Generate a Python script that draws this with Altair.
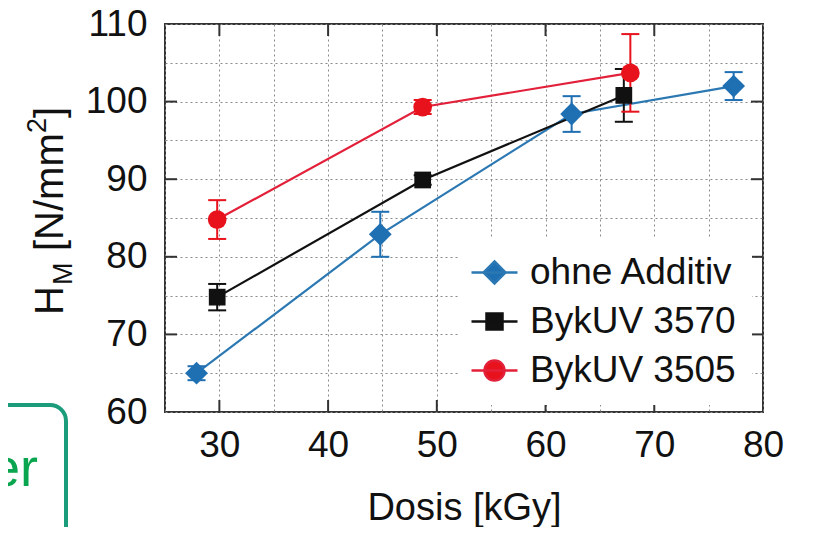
import altair as alt
import pandas as pd

FONT = "Liberation Sans"

names = ["ohne Additiv", "BykUV 3570", "BykUV 3505"]
colors = ["#1f6fb3", "#111111", "#e8121c"]
line_colors = ["#2b78b3", "#111111", "#e3203a"]
shapes = ["diamond", "square", "circle"]
marker_sizes = [520, 280, 350]

blue_x = [27.9, 44.8, 62.4, 77.3]
blue_y = [65.0, 82.9, 98.4, 102.0]
blue_err = [0.9, 2.9, 2.3, 1.8]

black_x = [29.8, 48.7, 67.2]
black_y = [74.8, 89.9, 100.8]
black_err = [1.7, 0.6, 3.4]

red_x = [29.8, 48.7, 67.8]
red_y = [84.8, 99.3, 103.7]
red_err = [2.5, 0.9, 5.0]

x_grid = [25, 30, 35, 40, 45, 50, 55, 60, 65, 70, 75, 80]
y_grid = [60, 65, 70, 75, 80, 85, 90, 95, 100, 105, 110]
x_ticks = [30, 40, 50, 60, 70]
y_ticks = [70, 80, 90, 100]

# legend symbols: line through marker (unit box -1..1)
legend_paths = [
    "M-2.3,0H2.3M0,-1.1L1.1,0L0,1.1L-1.1,0Z",
    "M-2.3,0H2.3M-0.8,-0.8H0.8V0.8H-0.8Z",
    "M-2.3,0H2.3M1,0A1,1 0 1,1 -1,0A1,1 0 1,1 1,0Z",
]

df = pd.DataFrame({
    "series": [names[0]] * len(blue_x) + [names[1]] * len(black_x) + [names[2]] * len(red_x),
    "x": blue_x + black_x + red_x,
    "y": blue_y + black_y + red_y,
    "err": blue_err + black_err + red_err,
})

W, H = 598, 388
xs = alt.Scale(domain=[25, 80], nice=False, zero=False)
ys = alt.Scale(domain=[60, 110], nice=False, zero=False)

label_expr = "datum.value % 10 == 0 ? datum.label : ''"

x_axis = alt.Axis(values=x_grid, labelExpr=label_expr, grid=True, gridDash=[2, 3],
                  gridColor="#8a8a8a", gridWidth=1, ticks=False, domain=False,
                  labelFont=FONT, labelFontSize=37, labelColor="#111", labelPadding=15,
                  labelFlush=False, labelOverlap=False, title="Dosis [kGy]", titleFont=FONT,
                  titleFontSize=38, titleFontWeight="normal", titleColor="#111", titlePadding=26)
y_axis = alt.Axis(values=y_grid, labelExpr=label_expr, grid=True, gridDash=[2, 3],
                  gridColor="#8a8a8a", gridWidth=1, ticks=False, domain=False,
                  labelFont=FONT, labelFontSize=37, labelColor="#111", labelPadding=18,
                  labelOverlap=False, title=None)

legend = alt.Legend(orient="none", legendX=295, legendY=214, title=None, labelFont=FONT,
                    labelFontSize=37, labelColor="#111", labelLimit=500, symbolSize=400,
                    symbolStrokeWidth=2.5, symbolOpacity=1, labelOffset=17, rowPadding=11,
                    padding=16, fillColor="white")

XA = alt.X("x:Q", scale=xs, axis=x_axis)
YA = alt.Y("y:Q", scale=ys, axis=y_axis)

legend_layer = alt.Chart(df).mark_point(filled=True, opacity=1, size=400).encode(
    x=XA, y=YA,
    color=alt.Color("series:N", scale=alt.Scale(domain=names, range=colors), legend=legend),
    stroke=alt.Stroke("series:N", scale=alt.Scale(domain=names, range=line_colors), legend=legend),
    shape=alt.Shape("series:N", scale=alt.Scale(domain=names, range=legend_paths), legend=legend),
).transform_filter("false")

line_layers, err_layers, point_layers = [], [], []
for name, c, lc, shp, sz in zip(names, colors, line_colors, shapes, marker_sizes):
    base = alt.Chart(df).transform_filter(alt.datum.series == name).transform_calculate(
        lo="datum.y - datum.err", hi="datum.y + datum.err")
    line_layers.append(base.mark_line(color=lc, strokeWidth=2.2).encode(x=XA, y=YA))
    err_layers.append(base.mark_rule(color=c, strokeWidth=2).encode(
        x=XA, y=alt.Y("lo:Q", scale=ys, axis=y_axis), y2="hi:Q"))
    err_layers.append(base.mark_tick(color=c, orient="horizontal", size=18, thickness=2, opacity=1).encode(
        x=XA, y=alt.Y("lo:Q", scale=ys, axis=y_axis)))
    err_layers.append(base.mark_tick(color=c, orient="horizontal", size=18, thickness=2, opacity=1).encode(
        x=XA, y=alt.Y("hi:Q", scale=ys, axis=y_axis)))
    point_layers.append(base.mark_point(filled=True, shape=shp, size=sz, color=c, opacity=1).encode(x=XA, y=YA))

# inward major ticks on all four sides
xt = pd.DataFrame({"v": x_ticks})
yt = pd.DataFrame({"v": y_ticks})
TL = 12
tick_style = dict(color="#333", strokeWidth=2)
XT = alt.X("v:Q", scale=xs, axis=x_axis)
YT = alt.Y("v:Q", scale=ys, axis=y_axis)
ticks = [
    alt.Chart(xt).mark_rule(**tick_style).encode(x=XT, y=alt.value(H), y2=alt.value(H - TL)),
    alt.Chart(xt).mark_rule(**tick_style).encode(x=XT, y=alt.value(0), y2=alt.value(TL)),
    alt.Chart(yt).mark_rule(**tick_style).encode(y=YT, x=alt.value(0), x2=alt.value(TL)),
    alt.Chart(yt).mark_rule(**tick_style).encode(y=YT, x=alt.value(W - TL), x2=alt.value(W)),
]

# y-axis title with subscript and superscript
one = pd.DataFrame({"k": [0]})
def txt(s, x, y, size, color="#111"):
    return alt.Chart(one).mark_text(text=s, angle=270, align="left", baseline="alphabetic",
                                    font=FONT, fontSize=size, color=color).encode(
        x=alt.value(x), y=alt.value(y))

ytitle = [
    txt("H", -102, 291, 40),
    txt("M", -93, 261, 27),
    txt("[N/mm", -102, 227, 40),
    txt("2", -119, 109, 27),
    txt("]", -102, 94, 40),
]

# cropped slide fragment at lower left
frag_box = alt.Chart(one).mark_rect(cornerRadius=16, fillOpacity=0, stroke="#1b9c7b", strokeWidth=4).encode(
    x=alt.value(-190), x2=alt.value(-99), y=alt.value(381), y2=alt.value(580))
frag_txt = alt.Chart(one).mark_text(text="er", align="left", baseline="alphabetic", font=FONT,
                                    fontSize=54, color="#0aa54f").encode(x=alt.value(-175), y=alt.value(462))

chart = alt.layer(
    legend_layer, *line_layers, *err_layers, *point_layers, *ticks, *ytitle, frag_box, frag_txt
).properties(
    width=W, height=H,
    autosize=alt.AutoSizeParams(type="none"),
    padding={"left": 157, "top": 16, "right": 44, "bottom": 115},
).configure_view(stroke="#333", strokeWidth=2)

chart.save("out.html", embed_options={"renderer": "svg", "actions": False})
